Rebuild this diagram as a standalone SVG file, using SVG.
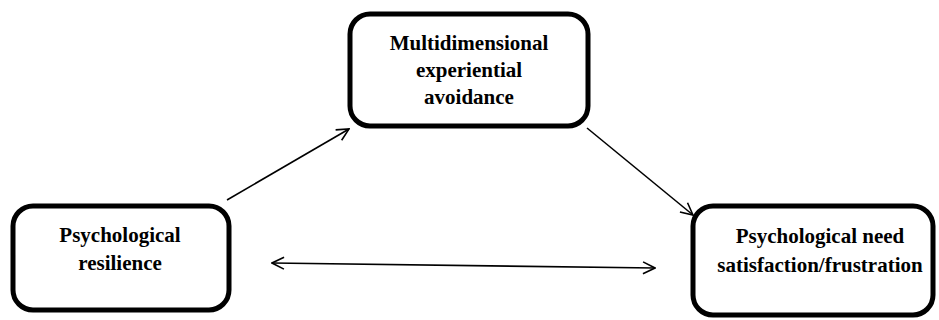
<svg xmlns="http://www.w3.org/2000/svg" width="939" height="320" viewBox="0 0 939 320">
<style>
.box{fill:#fff;stroke:#000;stroke-width:5}
.t{font-family:"Liberation Serif","Times New Roman",serif;font-weight:bold;font-size:21px;fill:#000;text-anchor:middle}
.c{stroke:#000;stroke-width:1.6;fill:none}
</style>
<defs>
<marker id="ah" viewBox="0 0 14 14" refX="13" refY="7" markerWidth="14" markerHeight="14" markerUnits="userSpaceOnUse" orient="auto-start-reverse">
<path d="M1,1 L13,7 L1,13" fill="none" stroke="#000" stroke-width="1.6"/>
</marker>
</defs>
<rect width="939" height="320" fill="#fff"/>
<g id="connectors">
<line class="c" x1="227" y1="200" x2="349" y2="129" marker-end="url(#ah)"/>
<line class="c" x1="587" y1="128" x2="693" y2="215" marker-end="url(#ah)"/>
<line class="c" x1="272" y1="263" x2="655" y2="268" marker-start="url(#ah)" marker-end="url(#ah)"/>
</g>
<g id="node-avoidance">
<rect class="box" x="350" y="14" width="238" height="112" rx="20"/>
<text class="t" x="469" y="50">Multidimensional</text>
<text class="t" x="469" y="77">experiential</text>
<text class="t" x="469" y="104">avoidance</text>
</g>
<g id="node-resilience">
<rect class="box" x="13" y="206" width="216" height="104" rx="20"/>
<text class="t" x="120" y="242">Psychological</text>
<text class="t" x="120" y="270">resilience</text>
</g>
<g id="node-need">
<rect class="box" x="693" y="206" width="240" height="109" rx="20"/>
<text class="t" x="820" y="243">Psychological need</text>
<text class="t" x="820" y="272">satisfaction/frustration</text>
</g>
</svg>
